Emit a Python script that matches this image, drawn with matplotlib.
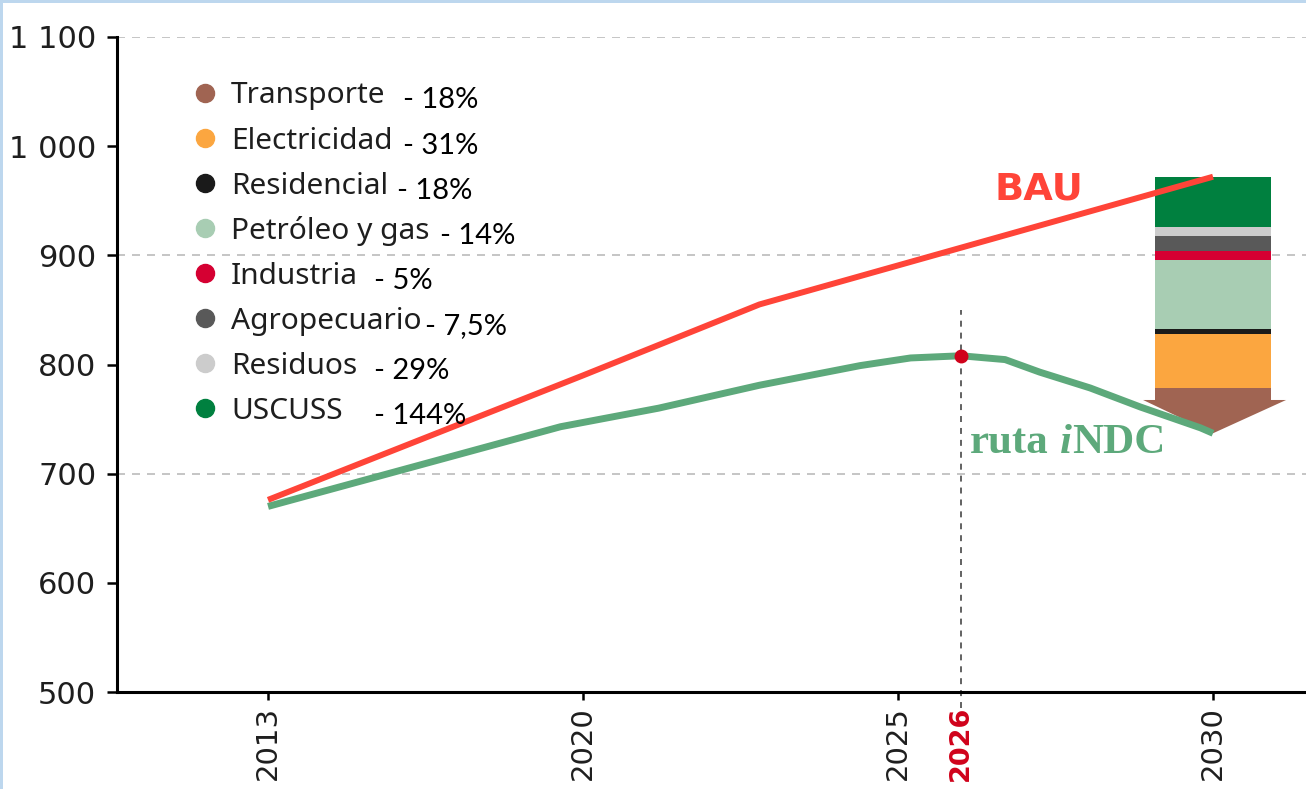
import numpy as np
import matplotlib
matplotlib.use('Agg')
import matplotlib.pyplot as plt
from matplotlib.lines import Line2D
from matplotlib.patches import Rectangle

# ---------------- data ----------------
years_bau = [2013, 2020, 2022.8, 2026, 2030]
bau = [676, 790, 855, 907, 972]

years_indc = [2013, 2019.5, 2021.2, 2022.8, 2024.4, 2025.2, 2026, 2026.7,
              2027.25, 2028.05, 2028.85, 2029.8, 2030]
indc = [670, 743, 760, 781, 799, 806, 808, 804.5, 793, 778.5, 761, 742, 737]

milestone_year = 2026
milestone_value = 808
milestone_line_top = 850

sectors = ['Transporte', 'Electricidad', 'Residencial', 'Petróleo y gas',
           'Industria', 'Agropecuario', 'Residuos', 'USCUSS']
reductions = ['- 18%', '- 31%', '- 18%', '- 14%', '- 5%', '- 7,5%', '- 29%', '- 144%']
sector_heights = [11.3, 48.9, 4.5, 63.5, 8.3, 14.0, 7.7, 45.8]
bar_base = 767.5
bar_year = 2030

xticks = [2013, 2020, 2025, 2026, 2030]
xtick_labels = ['2013', '2020', '2025', '2026', '2030']
yticks = [500, 600, 700, 800, 900, 1000, 1100]
ytick_labels = ['500', '600', '700', '800', '900', '1 000', '1 100']
grid_values = [700, 900, 1100]

# ---------------- style ----------------
colors = ['#A06452', '#FBA640', '#1A1A1A', '#A8CDB3', '#D50032', '#595959', '#CCCCCC', '#00803F']
bau_color = '#FF4438'
indc_color = '#5DA97B'
dot_color = '#D0021B'
text_color = '#1E1E1E'

W, H = 1306, 789
fig = plt.figure(figsize=(W / 100, H / 100), dpi=100)
ax = fig.add_axes([117 / W, 1 - 692 / H, 1 - 117 / W, (692 - 37) / H])

# piecewise axis: 2013-2020, 2020-2025, 2025-2030 take equal widths
anchor_years = [1990, 2013, 2020, 2025, 2030, 2060]
anchor_pos = [-23 / 7, 0, 1, 2, 3, 9]


def fwd(x):
    return np.interp(x, anchor_years, anchor_pos)


def inv(p):
    return np.interp(p, anchor_pos, anchor_years)


ax.set_xscale('function', functions=(fwd, inv))
ax.set_xlim(2009.644, 2031.476)
ax.set_ylim(500, 1100)

for s in ['top', 'right']:
    ax.spines[s].set_visible(False)
for s in ['left', 'bottom']:
    ax.spines[s].set_linewidth(2.2)
    ax.spines[s].set_color('black')

for v in grid_values:
    ax.axhline(v, color='#BBBBBB', lw=1.2, ls=(0, (4.8, 4.2)), zorder=0)

# dashed milestone line
ax.plot([milestone_year, milestone_year], [485, milestone_line_top], color='#555555',
        lw=1.3, ls=(0, (3.3, 3.3)), clip_on=False, zorder=1)

# stacked bar
bottoms = bar_base + np.concatenate([[0], np.cumsum(sector_heights)[:-1]])
ax.bar([bar_year] * len(sector_heights), sector_heights, width=1.83, bottom=bottoms,
       color=colors, linewidth=0, zorder=2)
# arrow head down to iNDC 2030 value
ax.fill([bar_year - 1.11, bar_year + 1.16, bar_year], [bar_base, bar_base, indc[-1]],
        color=colors[0], lw=0, zorder=2)

ax.plot(years_indc, indc, color=indc_color, lw=5.0, zorder=3,
        solid_capstyle='butt', solid_joinstyle='round')
ax.plot(years_bau, bau, color=bau_color, lw=4.3, zorder=4,
        solid_capstyle='butt', solid_joinstyle='round')
ax.plot([milestone_year], [milestone_value], 'o', ms=9, color=dot_color, zorder=5)

# ticks
ax.set_xticks(xticks)
ax.set_xticklabels(xtick_labels, rotation=90)
ax.set_yticks(yticks)
ax.set_yticklabels(ytick_labels)
ax.xaxis.set_minor_locator(matplotlib.ticker.NullLocator())
ax.tick_params(axis='x', length=6, width=1.8, pad=4, labelsize=21, labelcolor=text_color)
ax.tick_params(axis='y', length=7, width=1.8, pad=8, labelsize=22, labelcolor=text_color)
for lab in ax.get_xticklabels():
    lab.set_fontfamily('DejaVu Sans')
    if lab.get_text() == '2026':
        lab.set_color(dot_color)
        lab.set_fontweight('bold')
        lab.set_fontsize(19.5)
for t, tk in zip(xticks, ax.xaxis.get_major_ticks()):
    if t == milestone_year:
        tk.tick1line.set_visible(False)


def fx(x):
    return x / W


def fy(y):
    return 1 - y / H


# legend
row0, step = 92.5, 45.1
pct_x = [403, 403, 397, 440, 374, 425, 374, 374]
for i, (name, pct, col) in enumerate(zip(sectors, reductions, colors)):
    yrow = row0 + i * step
    fig.add_artist(Line2D([fx(205)], [fy(yrow)], transform=fig.transFigure,
                          marker='o', ms=13, color=col, lw=0))
    fig.text(fx(231), fy(yrow + 11), name, fontsize=21.5, color=text_color,
             family='Noto Sans', va='baseline', ha='left')
    fig.text(fx(pct_x[i]), fy(yrow + 16), pct, fontsize=21, color='black',
             family='Lato', va='baseline', ha='left')

# series labels
fig.text(fx(995), fy(199), 'BAU', fontsize=27.5, fontweight='bold', color=bau_color,
         family='DejaVu Sans', va='baseline', ha='left')
t1 = fig.text(fx(970), fy(453), 'ruta', fontsize=31, fontweight='bold', color=indc_color,
              family='Liberation Serif', va='baseline', ha='left')
t2 = ax.annotate('i', xy=(1, 0), xycoords=t1, xytext=(7.8, 0), textcoords='offset points',
                 fontsize=31, fontweight='bold', fontstyle='italic', color=indc_color,
                 family='Liberation Serif', va='bottom', ha='left', annotation_clip=False)
ax.annotate('NDC', xy=(1, 0), xycoords=t2, xytext=(0.5, 0), textcoords='offset points',
            fontsize=31, fontweight='bold', color=indc_color,
            family='Liberation Serif', va='bottom', ha='left', annotation_clip=False)

# light blue frame (top and left)
fig.add_artist(Rectangle((0, 1 - 3 / H), 1, 3 / H, transform=fig.transFigure,
                         color='#BDD7EE', lw=0))
fig.add_artist(Rectangle((0, 0), 3 / W, 1, transform=fig.transFigure,
                         color='#BDD7EE', lw=0))

fig.savefig('out.png', dpi=100)
